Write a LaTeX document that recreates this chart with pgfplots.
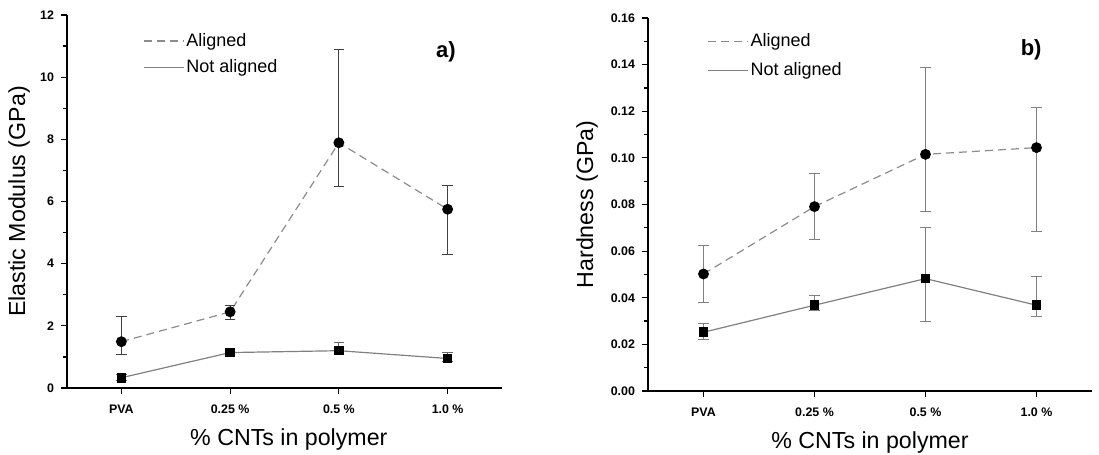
\documentclass[border=0pt]{standalone}
\usepackage{fontspec}
\setmainfont{Liberation Sans}
\usepackage{pgfplots}
\pgfplotsset{compat=1.18}
\definecolor{alcol}{gray}{0.55}
\definecolor{nacol}{gray}{0.5}
\pgfplotsset{
  myax/.style={
    scale only axis,
    axis lines*=left,
    axis line style={line width=1pt},
    tick align=outside,
    tick style={black, line width=0.6pt},
    major tick length=3pt,
    minor tick length=2pt,
    minor y tick num=1,
    xmin=-0.5, xmax=3.5,
    xtick={0,1,2,3},
    xticklabels={PVA,0.25 \%,0.5 \%,1.0 \%},
    tick label style={font=\fontsize{6.2}{7}\selectfont\bfseries},
    xticklabel style={yshift=-2pt},
    /pgf/number format/assume math mode=true,
    label style={font=\fontsize{11.6}{13}\selectfont},
    xlabel={\% CNTs in polymer},
    legend style={draw=none, fill=none, font=\fontsize{9}{10}\selectfont,
      row sep=3pt, inner sep=0pt, nodes={inner sep=1pt}, cells={anchor=west}},
    legend image code/.code={\draw[#1] (0pt,0pt) -- (20pt,0pt);},
    error bars/y dir=both, error bars/y explicit,
    error bars/error mark options={rotate=90, mark size=2.6pt, line width=0.5pt},
  },
  alstyle/.style={alcol, line width=0.6pt, dash pattern=on 4pt off 2.5pt,
    mark=*, mark size=2.4pt, mark options={solid, fill=black, draw=black}},
  nastyle/.style={nacol, line width=0.6pt,
    mark=square*, mark size=2.1pt, mark options={solid, fill=black, draw=black}},
}
\begin{document}
\begin{tikzpicture}
\useasboundingbox (0,0) rectangle (549.5pt,227.5pt);
% ---------- a) ----------
\begin{axis}[myax,
  at={(33.5pt,33.5pt)}, anchor=south west,
  width=217.5pt, height=186.5pt,
  ymin=0, ymax=12, ytick={0,2,4,6,8,10,12},
  ylabel={Elastic Modulus (GPa)},
  ylabel style={at={(axis description cs:-0.11,0.5)}, anchor=center},
  xlabel style={at={(axis description cs:0.51,-0.139)}, anchor=center},
  legend style={at={(axis description cs:0.174,0.958)}, anchor=north west},
]
\addplot+[alstyle, error bars/error bar style={black!75, solid, line width=0.5pt}]
  coordinates {
  (0,1.49) += (0,0.80) -= (0,0.41)
  (1,2.45) += (0,0.19) -= (0,0.26)
  (2,7.89) += (0,3.01) -= (0,1.42)
  (3,5.75) += (0,0.75) -= (0,1.45)
};
\addlegendentry{Aligned}
\addplot+[nastyle, error bars/error bar style={black!60, solid, line width=0.5pt}]
  coordinates {
  (0,0.33) += (0,0.10) -= (0,0.10)
  (1,1.14) += (0,0.06) -= (0,0.06)
  (2,1.20) += (0,0.26) -= (0,0.12)
  (3,0.95) += (0,0.19) -= (0,0.10)
};
\addlegendentry{Not aligned}
\node[font=\fontsize{11}{12}\selectfont\bfseries] at (axis description cs:0.871,0.90) {a)};
\end{axis}
% ---------- b) ----------
\begin{axis}[myax,
  at={(324pt,32pt)}, anchor=south west,
  width=222pt, height=186.5pt,
  ymin=0, ymax=0.16, ytick={0,0.02,0.04,0.06,0.08,0.10,0.12,0.14,0.16},
  yticklabel style={/pgf/number format/.cd, fixed, fixed zerofill, precision=2},
  scaled y ticks=false,
  ylabel={Hardness (GPa)},
  ylabel style={at={(axis description cs:-0.137,0.5)}, anchor=center},
  xlabel style={at={(axis description cs:0.5,-0.137)}, anchor=center},
  legend style={at={(axis description cs:0.133,0.965)}, anchor=north west, row sep=4.5pt},
]
\addplot+[alstyle, error bars/error bar style={black!50, solid, line width=0.5pt}]
  coordinates {
  (0,0.0502) += (0,0.0120) -= (0,0.0123)
  (1,0.0791) += (0,0.0141) -= (0,0.0143)
  (2,0.1015) += (0,0.0372) -= (0,0.0247)
  (3,0.1044) += (0,0.0174) -= (0,0.0358)
};
\addlegendentry{Aligned}
\addplot+[nastyle, error bars/error bar style={black!50, solid, line width=0.5pt}]
  coordinates {
  (0,0.0252) += (0,0.0038) -= (0,0.0029)
  (1,0.0368) += (0,0.0041) -= (0,0.0023)
  (2,0.0482) += (0,0.0218) -= (0,0.0182)
  (3,0.0368) += (0,0.0125) -= (0,0.0049)
};
\addlegendentry{Not aligned}
\node[font=\fontsize{11}{12}\selectfont\bfseries] at (axis description cs:0.863,0.914) {b)};
\end{axis}
\end{tikzpicture}
\end{document}
